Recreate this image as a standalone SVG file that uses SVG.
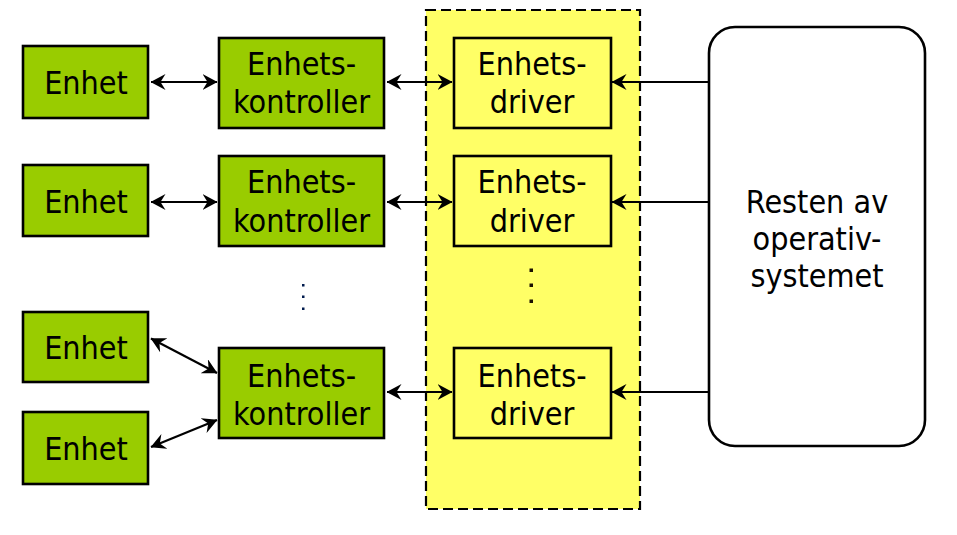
<svg xmlns="http://www.w3.org/2000/svg" width="957" height="535" viewBox="0 0 957 535">
  <style>
    text { font-family: "DejaVu Sans Condensed", "DejaVu Sans", sans-serif; font-size: 32px; fill: #000; text-anchor: middle; }
    .green { fill: #99CC00; stroke: #000; stroke-width: 2.6; }
    .yellow { fill: #FFFF66; stroke: #000; stroke-width: 2.6; }
    .os { fill: #FFFFFF; stroke: #000; stroke-width: 2.6; }
    .conn { stroke: #000; stroke-width: 2.2; fill: none; }
    .dbl { marker-start: url(#arr); marker-end: url(#arr); }
    .single { marker-end: url(#arr); }
  </style>
  <defs>
    <marker id="arr" viewBox="0 0 15 16" refX="14.5" refY="8" markerWidth="15" markerHeight="16" markerUnits="userSpaceOnUse" orient="auto-start-reverse">
      <path d="M0,0 L15,8 L0,16 L5,8 z" fill="#000"/>
    </marker>
  </defs>

  <g id="driver-region">
    <rect x="426" y="10" width="214" height="499" fill="#FFFF66" stroke="#000" stroke-width="2.2" stroke-dasharray="10 5"/>
  </g>

  <g id="enhet1">
    <rect class="green" x="23" y="46" width="125" height="72"/>
    <text x="86" y="93.5">Enhet</text>
  </g>
  <g id="enhet2">
    <rect class="green" x="23" y="165" width="125" height="71"/>
    <text x="86" y="213">Enhet</text>
  </g>
  <g id="enhet3">
    <rect class="green" x="23" y="312" width="125" height="70"/>
    <text x="86" y="359">Enhet</text>
  </g>
  <g id="enhet4">
    <rect class="green" x="23" y="412" width="125" height="72"/>
    <text x="86" y="460">Enhet</text>
  </g>

  <g id="kontroller1">
    <rect class="green" x="219" y="38" width="165" height="90"/>
    <text x="301.5" y="75">Enhets-</text>
    <text x="301.5" y="113">kontroller</text>
  </g>
  <g id="kontroller2">
    <rect class="green" x="219" y="156" width="165" height="90"/>
    <text x="301.5" y="193">Enhets-</text>
    <text x="301.5" y="231.5">kontroller</text>
  </g>
  <g id="kontroller3">
    <rect class="green" x="219" y="348" width="165" height="90"/>
    <text x="301.5" y="386.5">Enhets-</text>
    <text x="301.5" y="424.5">kontroller</text>
  </g>

  <g id="driver1">
    <rect class="yellow" x="454" y="38" width="157" height="90"/>
    <text x="532" y="75">Enhets-</text>
    <text x="532" y="113">driver</text>
  </g>
  <g id="driver2">
    <rect class="yellow" x="454" y="156" width="157" height="90"/>
    <text x="532" y="193">Enhets-</text>
    <text x="532" y="231.5">driver</text>
  </g>
  <g id="driver3">
    <rect class="yellow" x="454" y="348" width="157" height="90"/>
    <text x="532" y="386.5">Enhets-</text>
    <text x="532" y="424.5">driver</text>
  </g>

  <g id="os">
    <rect class="os" x="709" y="27" width="216" height="419" rx="26" ry="26"/>
    <text x="817" y="213">Resten av</text>
    <text x="817" y="250">operativ-</text>
    <text x="817" y="287">systemet</text>
  </g>

  <g id="ellipsis-kontroller" fill="#001a4d">
    <rect x="302" y="284" width="2.5" height="2.5"/>
    <rect x="302" y="295.5" width="2.5" height="2.5"/>
    <rect x="302" y="307.5" width="2.5" height="2.5"/>
  </g>
  <g id="ellipsis-driver" fill="#1a1000">
    <rect x="529.5" y="268.5" width="3.5" height="3.5"/>
    <rect x="529.5" y="283.5" width="3.5" height="3.5"/>
    <rect x="529.5" y="299.5" width="3.5" height="3.5"/>
  </g>

  <g id="connectors">
    <line class="conn dbl" x1="151" y1="82" x2="217" y2="82"/>
    <line class="conn dbl" x1="151" y1="202" x2="217" y2="202"/>
    <line class="conn dbl" x1="151" y1="338.5" x2="217" y2="373"/>
    <line class="conn dbl" x1="151" y1="447" x2="217" y2="420"/>
    <line class="conn dbl" x1="387" y1="82" x2="452" y2="82"/>
    <line class="conn dbl" x1="387" y1="202" x2="452" y2="202"/>
    <line class="conn dbl" x1="387" y1="392" x2="452" y2="392"/>
    <line class="conn single" x1="709" y1="82" x2="612" y2="82"/>
    <line class="conn single" x1="709" y1="202" x2="612" y2="202"/>
    <line class="conn single" x1="709" y1="392" x2="612" y2="392"/>
  </g>
</svg>
